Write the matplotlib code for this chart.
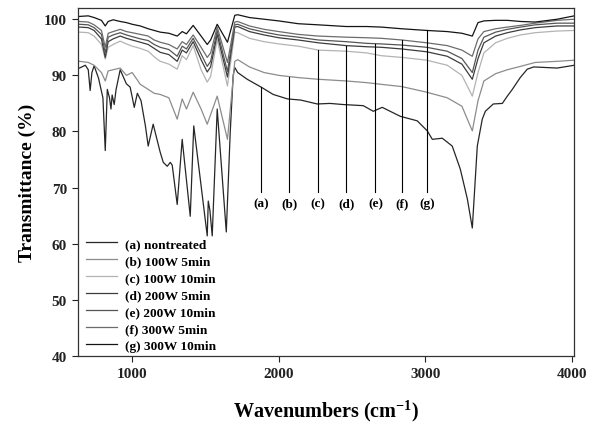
import numpy as np
import matplotlib
matplotlib.use("Agg")
import matplotlib.pyplot as plt

plt.rcParams['font.family'] = ['Liberation Serif', 'DejaVu Serif']
plt.rcParams['font.weight'] = 'bold'
plt.rcParams['mathtext.fontset'] = 'custom'
plt.rcParams['mathtext.rm'] = 'Liberation Serif:bold'
plt.rcParams['mathtext.it'] = 'Liberation Serif:bold'
plt.rcParams['mathtext.bf'] = 'Liberation Serif:bold'

# ---- data -------------------------------------------------------------
series_labels = ["(a) nontreated", "(b) 100W 5min", "(c) 100W 10min",
                 "(d) 200W 5min", "(e) 200W 10min", "(f) 300W 5min",
                 "(g) 300W 10min"]
series_colors = ["#262626", "#8c8c8c", "#b3b3b3", "#3c3c3c", "#555555",
                 "#6c6c6c", "#141414"]

# nontreated spectrum (own wavenumber grid, more structure)
wn_a = [640, 680, 700, 713, 725, 740, 770, 800, 816, 830, 845, 855, 863,
        877, 890, 918, 960, 986, 1014, 1035, 1060, 1090, 1109, 1143, 1165,
        1191, 1212, 1239, 1260, 1273, 1307, 1341, 1396, 1420, 1512, 1519,
        1530, 1546, 1580, 1642, 1669, 1689, 1700, 1720, 1785, 1880, 1962,
        2060, 2150, 2263, 2350, 2440, 2577, 2645, 2706, 2830, 2945, 3014,
        3048, 3116, 3184, 3239, 3287, 3321, 3355, 3389, 3410, 3464, 3526,
        3560, 3594, 3648, 3696, 3740, 3900, 4017]
t_a = [91.3, 91.8, 91.0, 87.3, 90.5, 91.7, 89.5, 86.0, 76.6, 87.5, 86.0,
       84.0, 86.5, 84.8, 87.5, 91.0, 88.5, 87.9, 84.3, 86.8, 85.5, 81.0,
       77.4, 81.3, 79.0, 76.3, 74.5, 73.8, 74.5, 74.0, 67.0, 78.6, 64.9,
       81.0, 61.4, 67.6, 66.0, 61.4, 84.0, 62.1, 79.9, 90.0, 91.4, 90.5,
       89.3, 87.9, 86.6, 85.8, 85.6, 84.9, 85.0, 84.8, 84.6, 83.6, 84.3,
       82.7, 81.9, 80.1, 78.6, 78.8, 77.4, 73.3, 68.0, 62.8, 77.4, 82.2,
       83.6, 84.9, 85.0, 86.3, 87.5, 89.6, 91.1, 91.5, 91.3, 91.8]

# shared wavenumber grid of the treated samples
wn_t = [640, 700, 740, 790, 816, 836, 870, 918, 960, 1000, 1055, 1109,
        1150, 1191, 1250, 1307, 1341, 1370, 1416, 1470, 1512, 1535, 1580,
        1650, 1700, 1720, 1800, 1900, 2000, 2133, 2270, 2460, 2600, 2700,
        2840, 3010, 3150, 3250, 3321, 3360, 3400, 3480, 3560, 3650, 3750,
        3900, 4017]
t_b = [92.5, 92.3, 91.8, 90.5, 89.0, 90.8, 91.0, 91.3, 90.0, 90.5, 88.4,
       87.5, 86.8, 86.6, 86.0, 82.2, 85.8, 84.0, 87.0, 84.0, 81.3, 83.0,
       86.3, 78.6, 92.5, 92.8, 91.5, 90.5, 90.0, 89.6, 89.3, 89.0, 88.7,
       88.4, 88.0, 87.0, 86.0, 84.5, 80.1, 85.5, 89.0, 90.3, 91.0, 91.6,
       92.3, 92.5, 92.7]
t_c = [97.7, 97.6, 97.0, 95.5, 92.9, 95.0, 95.5, 96.1, 95.6, 95.2, 94.8,
       94.3, 93.3, 92.5, 92.0, 91.1, 93.5, 92.8, 95.3, 91.0, 88.8, 89.8,
       96.4, 88.1, 97.7, 97.6, 96.6, 96.0, 95.6, 95.2, 94.5, 94.3, 94.0,
       93.5, 93.2, 92.7, 91.8, 90.0, 86.3, 90.5, 94.0, 95.8, 96.6, 97.2,
       97.6, 97.9, 98.0]
t_d = [98.6, 98.5, 98.0, 96.5, 93.2, 96.0, 96.5, 97.0, 96.6, 96.3, 95.9,
       95.5, 94.8, 94.1, 93.7, 92.5, 94.5, 94.0, 96.0, 92.8, 90.6, 91.5,
       97.3, 89.7, 98.6, 98.7, 97.8, 97.2, 96.7, 96.3, 95.8, 95.3, 95.1,
       95.0, 94.7, 94.2, 93.4, 92.0, 89.3, 93.0, 95.8, 97.0, 97.6, 98.1,
       98.5, 98.8, 98.8]
t_e = [99.1, 99.0, 98.5, 97.3, 94.0, 96.8, 97.2, 97.6, 97.2, 96.9, 96.5,
       96.2, 95.5, 95.0, 94.6, 93.4, 95.2, 94.7, 96.6, 93.8, 91.6, 92.5,
       98.0, 90.7, 99.0, 99.1, 98.3, 97.7, 97.2, 96.8, 96.3, 96.0, 95.7,
       95.6, 95.4, 95.0, 94.3, 93.0, 90.5, 94.5, 96.8, 97.7, 98.2, 98.6,
       99.0, 99.3, 99.3]
t_f = [99.6, 99.5, 99.0, 98.0, 95.0, 97.5, 97.8, 98.2, 97.8, 97.6, 97.3,
       97.0, 96.3, 95.9, 95.5, 94.7, 96.0, 95.5, 97.2, 95.0, 93.2, 94.0,
       98.6, 92.3, 99.5, 99.6, 98.8, 98.2, 97.8, 97.3, 97.0, 96.8, 96.7,
       96.6, 96.3, 95.8, 95.3, 94.5, 93.4, 96.5, 97.8, 98.3, 98.6, 98.9,
       99.3, 99.8, 100.0]
t_g = [100.5, 100.6, 100.3, 99.8, 98.8, 99.6, 99.9, 99.6, 99.4, 99.1, 98.8,
       98.3, 98.0, 97.7, 97.5, 97.0, 97.8, 97.4, 98.9, 97.0, 95.5, 96.3,
       99.1, 95.9, 100.7, 100.8, 100.3, 100.0, 99.7, 99.2, 99.0, 98.7, 98.7,
       98.6, 98.3, 98.0, 97.8, 97.5, 97.0, 99.4, 99.7, 99.8, 99.8, 99.6,
       99.5, 100.0, 100.6]

marker_letters = ["(a)", "(b)", "(c)", "(d)", "(e)", "(f)", "(g)"]
marker_wn = [1880, 2070, 2270, 2460, 2660, 2840, 3010]

x_ticks = [1000, 2000, 3000, 4000]
y_ticks = [40, 50, 60, 70, 80, 90, 100]

# ---- figure -------------------------------------------------------------
fig = plt.figure(figsize=(5.94, 4.27), dpi=100)
ax = fig.add_axes([78 / 594, 1 - 357 / 427, 496 / 594, 348 / 427])

xs = [wn_a, wn_t, wn_t, wn_t, wn_t, wn_t, wn_t]
ys = [t_a, t_b, t_c, t_d, t_e, t_f, t_g]
handles = []
for x, y, c, lab in zip(xs, ys, series_colors, series_labels):
    h, = ax.plot(x, y, color=c, lw=0.9, label=lab)
    handles.append(h)

# label lines (a)..(g)
for i, (wn, let) in enumerate(zip(marker_wn, marker_letters)):
    top = np.interp(wn, xs[i], ys[i])
    ax.plot([wn, wn], [69.2, top], color="black", lw=0.8)
    ax.text(wn, 67.2, let, ha="center", va="center", fontsize=9.5,
            fontweight="bold")

ax.set_xlim(630, 4015)
ax.set_ylim(40, 102)
ax.set_xticks(x_ticks)
ax.set_yticks(y_ticks)
ax.tick_params(direction="out", length=4, width=0.8, labelsize=11,
               pad=4, colors="#222222")
for lbl in ax.get_xticklabels() + ax.get_yticklabels():
    lbl.set_fontweight("bold")
for s in ax.spines.values():
    s.set_color("#333333")
    s.set_linewidth(0.9)

ax.set_xlabel(r"Wavenumbers (cm$^{-1}$)", fontsize=14.5, fontweight="bold",
              labelpad=13)
ax.set_ylabel("Transmittance (%)", fontsize=14, fontweight="bold",
              labelpad=6)

leg = ax.legend(handles=handles, loc="lower left",
                bbox_to_anchor=(0.016, 0.012), frameon=False,
                prop={"family": "Liberation Serif", "weight": "bold",
                      "size": 9.6},
                handlelength=2.3, handletextpad=0.6, labelspacing=0.35,
                borderpad=0.0, borderaxespad=0.0)

fig.savefig("out.png", dpi=100)
